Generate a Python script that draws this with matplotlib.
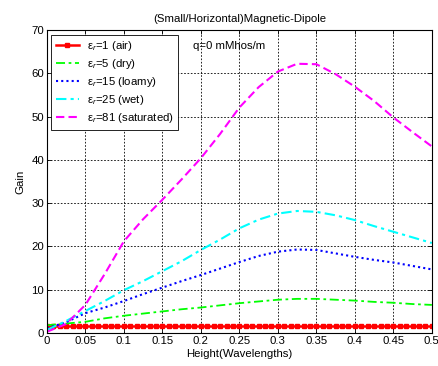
import matplotlib.pyplot as plt
import numpy as np

plt.rcParams['font.family'] = 'Liberation Sans'
plt.rcParams['font.size'] = 8.2
plt.rcParams['mathtext.fontset'] = 'custom'
plt.rcParams['mathtext.rm'] = 'Liberation Sans'
plt.rcParams['mathtext.it'] = 'Liberation Sans:italic'

# Height in wavelengths (read every 0.025)
height = [0, 0.025, 0.05, 0.075, 0.1, 0.125, 0.15, 0.175, 0.2, 0.225, 0.25,
          0.275, 0.3, 0.325, 0.35, 0.375, 0.4, 0.425, 0.45, 0.475, 0.5]

# air curve sampled at its marker positions
height_air = np.linspace(0, 0.5, 61)
gain_air = [1.6] * 61

gain_dry = [1.8, 2.2, 2.6, 3.4, 4.0, 4.5, 5.0, 5.5, 5.9, 6.4, 6.9,
            7.3, 7.7, 7.9, 7.9, 7.7, 7.5, 7.2, 7.0, 6.7, 6.5]
gain_loamy = [1.1, 2.5, 4.6, 5.9, 7.4, 9.0, 10.5, 12.0, 13.4, 14.9, 16.4,
              17.8, 18.8, 19.3, 19.2, 18.4, 17.6, 16.9, 16.3, 15.5, 14.7]
gain_wet = [0.7, 2.8, 5.1, 7.4, 9.9, 12.0, 14.3, 16.6, 19.2, 21.6, 24.2,
            26.2, 27.6, 28.2, 28.0, 27.2, 26.1, 24.7, 23.4, 22.1, 20.8]
gain_sat = [0.3, 2.1, 6.5, 13.6, 21.2, 26.3, 30.8, 35.5, 40.4, 46.0, 52.1,
            56.8, 60.4, 62.2, 62.1, 59.8, 56.9, 53.6, 49.8, 46.4, 43.1]

labels = ['ε$_r$=1 (air)', 'ε$_r$=5 (dry)', 'ε$_r$=15 (loamy)',
          'ε$_r$=25 (wet)', 'ε$_r$=81 (saturated)']

fig = plt.figure(figsize=(4.38, 3.66), dpi=100)
ax = fig.add_axes([0.107, 0.090, 0.879, 0.828])

ax.plot(height_air, gain_air, '-s', color='red', lw=1.8, ms=3.5, label=labels[0])
ax.plot(height, gain_dry, color='#00ff00', lw=1.3, ls=(0, (5, 2, 1.5, 2)), label=labels[1])
ax.plot(height, gain_loamy, color='blue', lw=1.5, ls=(0, (1, 1.5)), label=labels[2])
ax.plot(height, gain_wet, color='cyan', lw=1.5, ls=(0, (5, 2, 1.5, 2)), label=labels[3])
ax.plot(height, gain_sat, color='magenta', lw=1.5, ls=(0, (4, 2)), label=labels[4])

ax.set_xlim(0, 0.5)
ax.set_ylim(0, 70)
xt = np.arange(0, 0.501, 0.05)
ax.set_xticks(xt)
ax.set_xticklabels([f'{v:g}' for v in np.round(xt, 2)])
ax.set_yticks(range(0, 71, 10))
ax.tick_params(direction='in', top=True, right=True, length=3, width=0.6, pad=2)
ax.grid(True, color='black', linestyle=(0, (2, 2)), lw=0.6)
for s in ax.spines.values():
    s.set_linewidth(0.8)

ax.set_title('(Small/Horizontal)Magnetic-Dipole', fontsize=8.2, pad=6)
ax.set_xlabel('Height(Wavelengths)', labelpad=2)
ax.set_ylabel('Gain', labelpad=4)
ax.text(0.19, 66.3, 'q=0 mMhos/m', va='center')

leg = ax.legend(loc='upper left', fancybox=False, framealpha=1,
                edgecolor='black', borderaxespad=0.4, handlelength=2.0,
                labelspacing=0.35, borderpad=0.4, handletextpad=0.7)
leg.get_frame().set_linewidth(0.6)

fig.savefig('out.png', dpi=100)
